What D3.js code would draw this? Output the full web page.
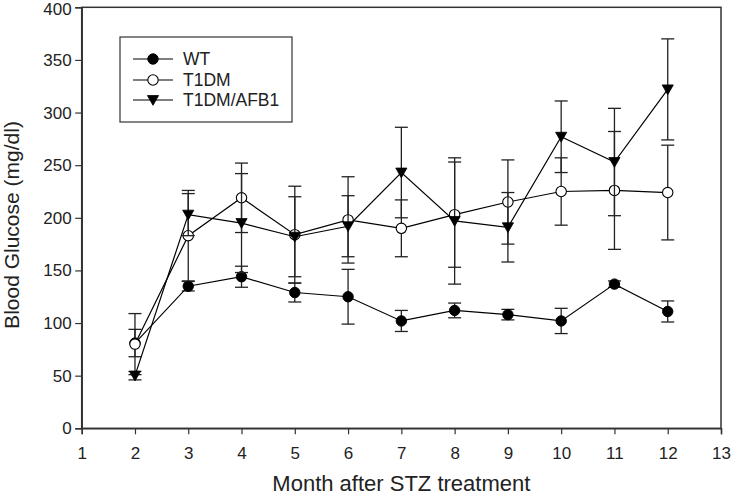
<!DOCTYPE html>
<html>
<head>
<meta charset="utf-8">
<script src="https://cdn.jsdelivr.net/npm/d3@7"></script>
<style>
  html, body { margin: 0; padding: 0; background: #fff; }
  svg { display: block; }
  text { font-family: "Liberation Sans", Arial, sans-serif; fill: #222; }
</style>
</head>
<body>
<svg id="chart" width="733" height="497"></svg>
<script>
const months = [2, 3, 4, 5, 6, 7, 8, 9, 10, 11, 12];
const wtMean    = [81, 135, 144, 129, 125, 102, 112, 108, 102, 137, 111];
const wtErr     = [13, 4.5, 10, 9, 26, 10, 7, 5, 12, 3, 10];
const t1dmMean  = [80, 183, 219, 184, 198, 190, 203, 215, 225, 226, 224];
const t1dmErr   = [29, 43, 33, 46, 41, 27, 50, 40, 32, 56, 45];
const afbMean   = [50, 203, 195, 182, 192, 243, 197, 191, 277, 253, 322];
const afbErr    = [4, 20, 47, 38, 29, 43, 60, 33, 34, 51, 48];
const xTicks = [1, 2, 3, 4, 5, 6, 7, 8, 9, 10, 11, 12, 13];
const yTicks = [0, 50, 100, 150, 200, 250, 300, 350, 400];
const seriesNames = ["WT", "T1DM", "T1DM/AFB1"];
const xTitle = "Month after STZ treatment";
const yTitle = "Blood Glucose (mg/dl)";

const series = [
  { name: seriesNames[0], mean: wtMean, err: wtErr, marker: "fcircle" },
  { name: seriesNames[1], mean: t1dmMean, err: t1dmErr, marker: "ocircle" },
  { name: seriesNames[2], mean: afbMean, err: afbErr, marker: "triangle" }
];

const svg = d3.select("#chart");
const pLeft = 81.7, pRight = 721, pTop = 7.3, pBottom = 428.3;
const x = d3.scaleLinear().domain([1, 13]).range([pLeft, pRight]);
const y = d3.scaleLinear().domain([0, 400]).range([pBottom, pTop]);

// frame
svg.append("rect").attr("x", pLeft).attr("y", pTop)
  .attr("width", pRight - pLeft).attr("height", pBottom - pTop)
  .attr("fill", "none").attr("stroke", "#333").attr("stroke-width", 1.5);

// axes
const xAxis = svg.append("g").attr("transform", `translate(0,${pBottom})`)
  .call(d3.axisBottom(x).tickValues(xTicks).tickFormat(d3.format("d")).tickSizeOuter(0).tickSize(6).tickPadding(12.5));
const yAxis = svg.append("g").attr("transform", `translate(${pLeft},0)`)
  .call(d3.axisLeft(y).tickValues(yTicks).tickFormat(d3.format("d")).tickSizeOuter(0).tickSize(6.5).tickPadding(3.5));
[xAxis, yAxis].forEach(g => {
  g.select(".domain").attr("stroke", "#333").attr("stroke-width", 1.5);
  g.selectAll(".tick line").attr("stroke", "#333").attr("stroke-width", 1.2);
  g.selectAll(".tick text").attr("font-size", 17).attr("fill", "#222")
    .style("font-family", "'Liberation Sans', Arial, sans-serif");
});
// nudge the top label slightly so it stays inside the page
yAxis.selectAll(".tick text").filter(d => d === 400).attr("y", 2);

// axis titles
svg.append("text").attr("x", (pLeft + pRight) / 2).attr("y", 491)
  .attr("text-anchor", "middle").attr("font-size", 22).text(xTitle);
svg.append("text").attr("transform", `translate(19,225) rotate(-90)`)
  .attr("text-anchor", "middle").attr("font-size", 21).text(yTitle);

function drawMarker(g, type, cx, cy) {
  if (type === "fcircle") {
    g.append("circle").attr("cx", cx).attr("cy", cy).attr("r", 5.2)
      .attr("fill", "#000").attr("stroke", "#000").attr("stroke-width", 1);
  } else if (type === "ocircle") {
    g.append("circle").attr("cx", cx).attr("cy", cy).attr("r", 5.2)
      .attr("fill", "#fff").attr("stroke", "#000").attr("stroke-width", 1.1);
  } else {
    const s = 5.6;
    g.append("path")
      .attr("d", `M${cx - s},${cy - s * 0.8}L${cx + s},${cy - s * 0.8}L${cx},${cy + s * 0.95}Z`)
      .attr("fill", "#000").attr("stroke", "#000").attr("stroke-width", 0.8);
  }
}

const line = d3.line().x(d => x(d[0])).y(d => y(d[1]));
series.forEach(s => {
  const g = svg.append("g");
  const pts = months.map((m, i) => [m, s.mean[i], s.err[i]]);
  // error bars
  pts.forEach(p => {
    const cx = x(p[0]);
    g.append("line").attr("x1", cx).attr("x2", cx)
      .attr("y1", y(p[1] - p[2])).attr("y2", y(p[1] + p[2]))
      .attr("stroke", "#222").attr("stroke-width", 1.3);
    [p[1] - p[2], p[1] + p[2]].forEach(v => {
      g.append("line").attr("x1", cx - 6.5).attr("x2", cx + 6.5)
        .attr("y1", y(v)).attr("y2", y(v))
        .attr("stroke", "#222").attr("stroke-width", 1.3);
    });
  });
  g.append("path").datum(pts).attr("d", line)
    .attr("fill", "none").attr("stroke", "#000").attr("stroke-width", 1.2);
  pts.forEach(p => drawMarker(g, s.marker, x(p[0]), y(p[1])));
});

// legend
const lg = svg.append("g");
lg.append("rect").attr("x", 120).attr("y", 37).attr("width", 172).attr("height", 85)
  .attr("fill", "#fff").attr("stroke", "#333").attr("stroke-width", 1.2);
const legendY = [59, 80, 100];
series.forEach((s, i) => {
  const ly = legendY[i];
  lg.append("line").attr("x1", 133).attr("x2", 173).attr("y1", ly).attr("y2", ly)
    .attr("stroke", "#000").attr("stroke-width", 1.2);
  drawMarker(lg, s.marker, 153, ly);
  lg.append("text").attr("x", 183).attr("y", ly + 6.3).attr("font-size", 17.5).text(s.name);
});
</script>
</body>
</html>
